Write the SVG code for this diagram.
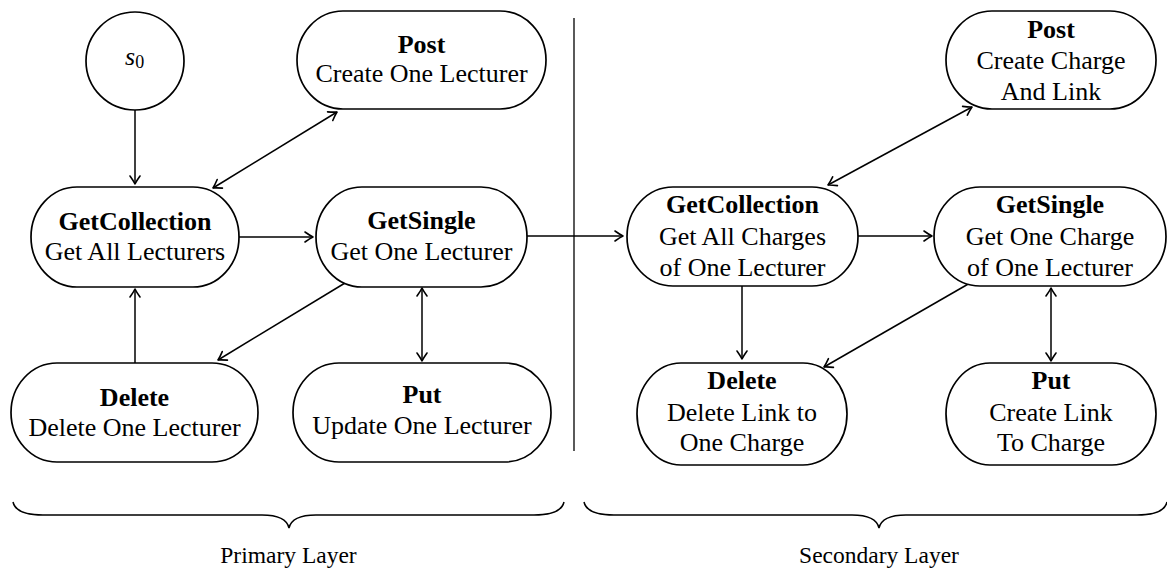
<svg xmlns="http://www.w3.org/2000/svg" width="1167" height="570" viewBox="0 0 1167 570">
<style>
.node{fill:#fff;stroke:#000;stroke-width:1.7}
.t{font-family:"Liberation Serif","Times New Roman",serif;font-size:26px;fill:#000;text-anchor:middle}
.b{font-weight:bold}
.lbl{font-family:"Liberation Serif","Times New Roman",serif;font-size:23.5px;fill:#000;text-anchor:middle}
.c{fill:none;stroke:#000;stroke-width:1.5}
.one{marker-end:url(#ah)}
.two{marker-start:url(#ah);marker-end:url(#ah)}
</style>
<defs>
<marker id="ah" markerUnits="userSpaceOnUse" markerWidth="10" markerHeight="10" refX="0" refY="0" orient="auto-start-reverse" overflow="visible">
<path d="M-8,-5 Q-2.8,-1.3 0,0 Q-2.8,1.3 -8,5" fill="none" stroke="#000" stroke-width="1.6" stroke-linecap="round" stroke-linejoin="round"/>
</marker>
</defs>
<rect width="1167" height="570" fill="#fff"/>

<g id="connectors">
<line class="c one" x1="135" y1="110" x2="135" y2="184"/>
<line class="c two" x1="213" y1="188" x2="337" y2="112"/>
<line class="c one" x1="239" y1="237" x2="313" y2="237"/>
<line class="c one" x1="345" y1="283" x2="218" y2="360"/>
<line class="c one" x1="135" y1="363" x2="135" y2="289"/>
<line class="c two" x1="422" y1="288" x2="422" y2="361"/>
<line class="c one" x1="527" y1="236" x2="623" y2="236"/>
<line class="c two" x1="828" y1="185" x2="972" y2="107"/>
<line class="c one" x1="858" y1="236" x2="932" y2="236"/>
<line class="c one" x1="742" y1="286" x2="742" y2="359"/>
<line class="c one" x1="970" y1="283" x2="824" y2="367"/>
<line class="c two" x1="1051" y1="288" x2="1051" y2="361"/>
</g>

<g id="divider">
<line x1="574" y1="18" x2="574" y2="451" stroke="#000" stroke-width="1.3"/>
</g>

<g id="s0">
<circle class="node" cx="135" cy="61" r="49"/>
<text x="125" y="65" font-family="Liberation Serif,serif" font-size="26" font-style="italic">s<tspan font-style="normal" font-size="18" dy="3">0</tspan></text>
</g>

<g id="getcollection1">
<rect class="node" x="31" y="187" width="208" height="100" rx="46" ry="50"/>
<text class="t b" x="135" y="230">GetCollection</text>
<text class="t" x="135" y="260">Get All Lecturers</text>
</g>

<g id="post1">
<rect class="node" x="297" y="11" width="249" height="98" rx="46" ry="49"/>
<text class="t b" x="421.5" y="53">Post</text>
<text class="t" x="421.5" y="82">Create One Lecturer</text>
</g>

<g id="getsingle1">
<rect class="node" x="316" y="187" width="211" height="100" rx="46" ry="50"/>
<text class="t b" x="421.5" y="229">GetSingle</text>
<text class="t" x="421.5" y="260">Get One Lecturer</text>
</g>

<g id="delete1">
<rect class="node" x="11" y="363" width="247" height="99" rx="46" ry="49.5"/>
<text class="t b" x="134.5" y="406">Delete</text>
<text class="t" x="134.5" y="436">Delete One Lecturer</text>
</g>

<g id="put1">
<rect class="node" x="293" y="363" width="258" height="99" rx="46" ry="49.5"/>
<text class="t b" x="422" y="403">Put</text>
<text class="t" x="422" y="434">Update One Lecturer</text>
</g>

<g id="getcollection2">
<rect class="node" x="627" y="187" width="231" height="99" rx="46" ry="49.5"/>
<text class="t b" x="742.5" y="213">GetCollection</text>
<text class="t" x="742.5" y="245">Get All Charges</text>
<text class="t" x="742.5" y="276">of One Lecturer</text>
</g>

<g id="post2">
<rect class="node" x="946" y="11" width="210" height="98" rx="46" ry="49"/>
<text class="t b" x="1051" y="38">Post</text>
<text class="t" x="1051" y="69">Create Charge</text>
<text class="t" x="1051" y="100">And Link</text>
</g>

<g id="getsingle2">
<rect class="node" x="934" y="187" width="232" height="99" rx="46" ry="49.5"/>
<text class="t b" x="1050" y="213">GetSingle</text>
<text class="t" x="1050" y="245">Get One Charge</text>
<text class="t" x="1050" y="276">of One Lecturer</text>
</g>

<g id="delete2">
<rect class="node" x="637" y="363" width="210" height="102" rx="44" ry="51"/>
<text class="t b" x="742" y="389">Delete</text>
<text class="t" x="742" y="421">Delete Link to</text>
<text class="t" x="742" y="451">One Charge</text>
</g>

<g id="put2">
<rect class="node" x="946" y="363" width="210" height="102" rx="44" ry="51"/>
<text class="t b" x="1051" y="389">Put</text>
<text class="t" x="1051" y="421">Create Link</text>
<text class="t" x="1051" y="451">To Charge</text>
</g>

<g id="primary-layer">
<path class="c" d="M13,502 Q16,515 43,515 L262,515 Q286,515 289,528 Q292,515 316,515 L534,515 Q561,515 564,502"/>
<text class="lbl" x="288.5" y="563">Primary Layer</text>
</g>

<g id="secondary-layer">
<path class="c" d="M584,502 Q587,515 614,515 L852,515 Q876,515 879,528 Q882,515 906,515 L1137,515 Q1164,515 1167,502"/>
<text class="lbl" x="879" y="563">Secondary Layer</text>
</g>
</svg>
